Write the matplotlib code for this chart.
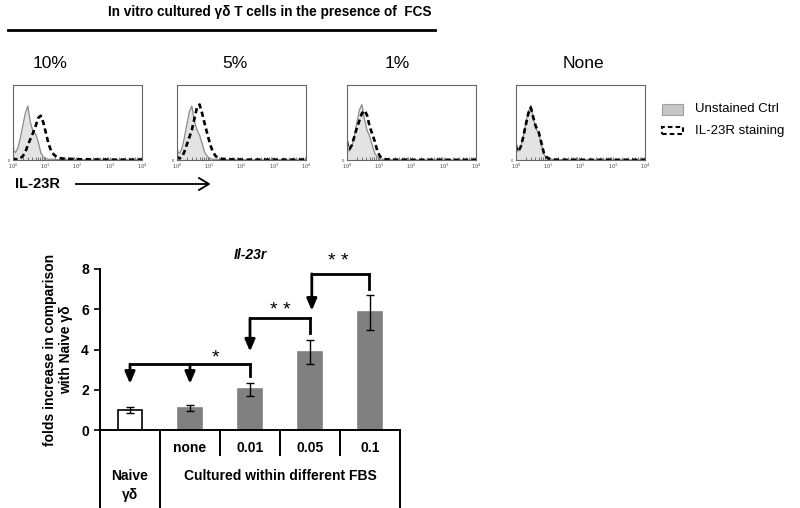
import numpy as np
import matplotlib.pyplot as plt
from matplotlib.patches import Rectangle

plt.rcParams['font.family'] = ['Liberation Sans', 'DejaVu Sans']

W, H = 800, 508

# ---- histogram data (x in log10 decades, y as fraction of panel height) ----
panel_titles = ["10%", "5%", "1%", "None"]
hist_dec = [0, 0.03, 0.08, 0.15, 0.22, 0.3, 0.38, 0.46, 0.54, 0.62, 0.7,
            0.78, 0.86, 0.94, 1.02, 1.1, 1.2, 1.35, 1.5, 2, 3, 4]
unstained = [
    [0.22, 0.12, 0.10, 0.16, 0.28, 0.45, 0.62, 0.72, 0.50, 0.38, 0.35,
     0.25, 0.10, 0.04, 0.02, 0.01, 0.01, 0.005, 0.005, 0.003, 0.003, 0.003],
    [0.18, 0.10, 0.09, 0.15, 0.28, 0.46, 0.64, 0.72, 0.52, 0.40, 0.33,
     0.22, 0.10, 0.05, 0.02, 0.01, 0.01, 0.005, 0.005, 0.003, 0.003, 0.003],
    [0.22, 0.14, 0.12, 0.18, 0.30, 0.48, 0.66, 0.74, 0.55, 0.40, 0.32,
     0.20, 0.09, 0.04, 0.02, 0.01, 0.005, 0.005, 0.003, 0.003, 0.003, 0.003],
    [0.22, 0.12, 0.12, 0.18, 0.30, 0.48, 0.64, 0.73, 0.55, 0.42, 0.36,
     0.22, 0.08, 0.03, 0.015, 0.01, 0.005, 0.005, 0.003, 0.003, 0.003, 0.003],
]
il23r = [
    [0.03, 0.01, 0.01, 0.01, 0.02, 0.05, 0.10, 0.20, 0.28, 0.36, 0.45,
     0.56, 0.59, 0.50, 0.36, 0.22, 0.10, 0.04, 0.02, 0.01, 0.005, 0.005],
    [0.05, 0.03, 0.02, 0.04, 0.10, 0.20, 0.30, 0.40, 0.55, 0.70, 0.74,
     0.62, 0.48, 0.35, 0.22, 0.12, 0.05, 0.02, 0.01, 0.005, 0.005, 0.005],
    [0.25, 0.15, 0.15, 0.20, 0.30, 0.42, 0.52, 0.62, 0.66, 0.60, 0.45,
     0.35, 0.25, 0.12, 0.05, 0.02, 0.01, 0.005, 0.005, 0.003, 0.003, 0.003],
    [0.20, 0.12, 0.12, 0.18, 0.30, 0.46, 0.62, 0.70, 0.56, 0.44, 0.38,
     0.24, 0.10, 0.04, 0.02, 0.01, 0.005, 0.005, 0.003, 0.003, 0.003, 0.003],
]

# ---- bar chart data ----
groups = ["Naive", "none", "0.01", "0.05", "0.1"]
fold = [1.0, 1.07, 2.02, 3.88, 5.85]
fold_err = [0.15, 0.15, 0.31, 0.60, 0.88]


def fx(px):
    return px / W


def fy(py):
    return 1 - py / H


fig = plt.figure(figsize=(8, 5.08), dpi=100)

# top title and rule
fig.text(fx(270), fy(12), "In vitro cultured γδ T cells in the presence of  FCS",
         ha="center", va="center", fontsize=9.8, fontweight="bold")
fig.add_artist(plt.Line2D([fx(8), fx(435)], [fy(30), fy(30)], color="black", lw=2))

# histograms
box_left = [13, 177, 347, 516]
title_x = [50, 235, 397, 583]
bw, top, bot = 129, 85, 160
x_vals = 10 ** np.array(hist_dec)
for i in range(4):
    ax = fig.add_axes([fx(box_left[i]), fy(bot), bw / W, (bot - top) / H])
    ax.fill_between(x_vals, unstained[i], color="#e3e3e3", lw=0)
    ax.plot(x_vals, unstained[i], color="#8a8a8a", lw=0.9)
    ax.plot(x_vals, il23r[i], color="black", lw=1.9, ls=(0, (2, 1.3)))
    ax.set_xscale("log")
    ax.set_xlim(1, 1e4)
    ax.set_ylim(0, 1)
    ax.set_xticks([1, 10, 100, 1000, 1e4])
    ax.set_xticklabels([r"$10^0$", r"$10^1$", r"$10^2$", r"$10^3$", r"$10^4$"])
    ax.tick_params(axis="x", which="both", direction="in", length=2, width=0.5,
                   labelsize=3.5, pad=1, colors="#444444")
    ax.set_yticks([0])
    ax.set_yticklabels(["0"])
    ax.tick_params(axis="y", direction="in", length=1.5, width=0.5,
                   labelsize=3, pad=2, colors="#444444")
    for s in ax.spines.values():
        s.set_color("#666666")
        s.set_linewidth(0.8)
    fig.text(fx(title_x[i]), fy(63), panel_titles[i], ha="center", va="center",
             fontsize=12.5)

# legend
fig.add_artist(Rectangle((fx(662), fy(115)), 21 / W, 11 / H, facecolor="#c6c6c6",
                         edgecolor="#a0a0a0", lw=0.8))
fig.text(fx(695), fy(109), "Unstained Ctrl", va="center", fontsize=9.5)
fig.add_artist(Rectangle((fx(662), fy(134)), 21 / W, 7 / H, facecolor="none",
                         edgecolor="black", lw=1.5, ls=(0, (2.2, 1.5))))
fig.text(fx(695), fy(131), "IL-23R staining", va="center", fontsize=9.5)

# IL-23R axis label and arrow
fig.text(fx(15), fy(184), "IL-23R", va="center", fontsize=10.5, fontweight="bold")
fig.add_artist(plt.Line2D([fx(76), fx(208)], [fy(184), fy(184)], color="black", lw=1.3))
fig.add_artist(plt.Line2D([fx(199), fx(209), fx(199)], [fy(178), fy(184), fy(190)],
                          color="black", lw=1.3))

# bar chart
ax = fig.add_axes([fx(100), fy(430), 300 / W, (430 - 269) / H])
xpos = np.arange(len(groups))
colors = ["white"] + ["#808080"] * 4
edges = ["black"] + ["#808080"] * 4
ax.bar(xpos, fold, width=0.4, color=colors, edgecolor=edges, lw=1.2)
ax.errorbar(xpos, fold, yerr=fold_err, fmt="none", ecolor="black", elinewidth=1,
            capsize=3, capthick=1)
ax.set_xlim(-0.5, 4.5)
ax.set_ylim(0, 8)
ax.set_yticks([0, 2, 4, 6, 8])
ax.set_xticks([])
for lab in ax.get_yticklabels():
    lab.set_fontweight("bold")
ax.tick_params(axis="y", labelsize=10, length=4, width=1.2, pad=4)
ax.spines["top"].set_visible(False)
ax.spines["right"].set_visible(False)
ax.spines["left"].set_linewidth(1.4)
ax.spines["bottom"].set_linewidth(1.4)
ax.set_title("Il-23r", fontsize=10, fontweight="bold", style="italic", pad=7)
ax.set_ylabel("folds increase in comparison\nwith Naive γδ", fontsize=10,
              fontweight="bold", labelpad=6)

# table under the bars
low = -3.9
for xv, y1 in [(-0.5, low), (0.5, low), (1.5, -1.25), (2.5, -1.25), (3.5, -1.25), (4.5, low)]:
    ax.plot([xv, xv], [0, y1], color="black", lw=1.4, clip_on=False)
for xv, lab in zip(xpos[1:], groups[1:]):
    ax.text(xv, -0.88, lab, ha="center", va="center", fontsize=10, fontweight="bold")
ax.text(0, -2.3, "Naive", ha="center", va="center", fontsize=10, fontweight="bold")
ax.text(0, -3.22, "γδ", ha="center", va="center", fontsize=10, fontweight="bold")
ax.text(2.5, -2.3, "Cultured within different FBS", ha="center", va="center",
        fontsize=10, fontweight="bold")

# significance brackets
arrow = dict(arrowstyle="-|>,head_width=0.3,head_length=0.7", lw=2, color="black",
             shrinkA=0, shrinkB=0)


def down_arrow(x, y0, y1):
    ax.annotate("", xy=(x, y1), xytext=(x, y0), arrowprops=arrow, annotation_clip=False)


def line(xs, ys):
    ax.plot(xs, ys, color="black", lw=2, clip_on=False, solid_capstyle="projecting")


line([0, 2], [3.27, 3.27])
down_arrow(0, 3.27, 2.3)
down_arrow(1, 3.27, 2.3)
line([2, 2], [3.27, 2.67])
ax.text(1.42, 3.6, "*", ha="center", va="center", fontsize=14)

line([2, 3], [5.55, 5.55])
down_arrow(2, 5.55, 3.9)
line([3, 3], [5.55, 4.8])
ax.text(2.5, 5.95, "* *", ha="center", va="center", fontsize=14)

line([3.03, 3.98], [7.76, 7.76])
down_arrow(3.03, 7.76, 5.93)
line([3.98, 3.98], [7.76, 7.0])
ax.text(3.47, 8.35, "* *", ha="center", va="center", fontsize=14, clip_on=False)

fig.savefig("out.png", dpi=100)
